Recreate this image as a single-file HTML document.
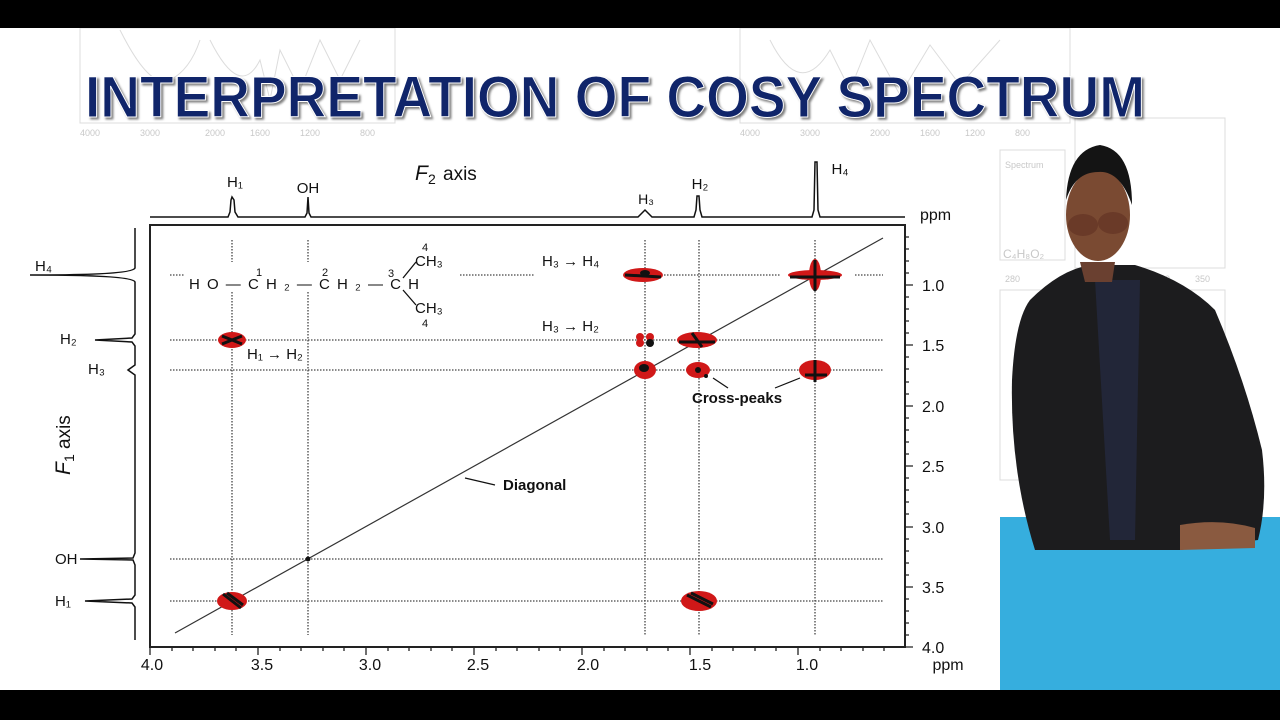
<!DOCTYPE html>
<html><head><meta charset="utf-8"><style>
html,body{margin:0;padding:0;width:1280px;height:720px;overflow:hidden;background:#fff}
svg{display:block}
text{font-family:"Liberation Sans",Arial,sans-serif}
</style></head><body>
<svg width="1280" height="720" viewBox="0 0 1280 720">
<rect width="1280" height="720" fill="#fff"/>
<g stroke="#dcdcdc" fill="none" stroke-width="1">
<rect x="80" y="28" width="315" height="95"/>
<path d="M120 30 Q150 90 170 80 T200 40 M210 40 Q240 100 260 60 L270 100 L280 50 L300 90 L320 40 L340 80 L360 40"/>
<rect x="740" y="28" width="330" height="95"/>
<path d="M770 40 Q800 100 830 50 L850 90 L870 40 L900 95 L930 45 L960 85 L1000 40"/>
<rect x="1075" y="118" width="150" height="150"/>
<rect x="1000" y="150" width="65" height="110"/>
<rect x="1000" y="290" width="225" height="190"/>
</g>
<g fill="#c8c8c8" font-size="9">
<text x="80" y="136">4000</text><text x="140" y="136">3000</text><text x="205" y="136">2000</text><text x="250" y="136">1600</text><text x="300" y="136">1200</text><text x="360" y="136">800</text>
<text x="740" y="136">4000</text><text x="800" y="136">3000</text><text x="870" y="136">2000</text><text x="920" y="136">1600</text><text x="965" y="136">1200</text><text x="1015" y="136">800</text>
<text x="1005" y="168">Spectrum</text><text x="1003" y="258" font-size="12">C₄H₈O₂</text><text x="1005" y="282">280</text><text x="1155" y="282">300</text><text x="1195" y="282">350</text>
</g>
<rect x="0" y="0" width="1280" height="28" fill="#000"/>
<rect x="0" y="690" width="1280" height="30" fill="#000"/>
<text x="85" y="117" font-size="58" font-weight="bold" fill="#10256a" stroke="#fff" stroke-width="1" textLength="1060" lengthAdjust="spacingAndGlyphs" style="filter:drop-shadow(2px 2px 1px rgba(0,0,0,0.5))">INTERPRETATION OF COSY SPECTRUM</text>

<path d="M150 217 L228 217 L230 212 L231 200 L232 197 L234 200 L235 212 L238 217 L305 217 L307 213 L308 197 L309 213 L311 217 L638 217 L642 213 L645 210 L648 213 L652 217 L694 217 L696 210 L697 196 L699 196 L700 210 L702 217 L812 217 L814 210 L815 162 L817 162 L818 210 L820 217 L905 217" stroke="#111" stroke-width="1.5" fill="none"/>
<text x="235" y="187" font-size="15" text-anchor="middle" fill="#111">H₁</text>
<text x="308" y="193" font-size="15" text-anchor="middle" fill="#111">OH</text>
<text x="646" y="204" font-size="14" text-anchor="middle" fill="#111">H₃</text>
<text x="700" y="189" font-size="15" text-anchor="middle" fill="#111">H₂</text>
<text x="840" y="174" font-size="15" text-anchor="middle" fill="#111">H₄</text>
<text x="415" y="180" font-size="21" font-style="italic" fill="#111">F</text><text x="428" y="184" font-size="14" fill="#111">2</text><text x="443" y="180" font-size="19" fill="#111">axis</text>
<text x="920" y="220" font-size="16" fill="#111">ppm</text>

<path d="M135 228 L135 268 Q133 275 30 275 Q133 275 135 282 L135 334 L132 338 L95 340 L132 342 L135 346 L135 365 L128 370 L135 375 L135 553 L133 558 L80 559 L133 560 L135 565 L135 595 L132 599 L85 601 L132 603 L135 607 L135 640" stroke="#111" stroke-width="1.5" fill="none"/>
<text x="35" y="271" font-size="15" fill="#111">H₄</text>
<text x="60" y="344" font-size="15" fill="#111">H₂</text>
<text x="88" y="374" font-size="15" fill="#111">H₃</text>
<text x="55" y="564" font-size="15" fill="#111">OH</text>
<text x="55" y="606" font-size="15" fill="#111">H₁</text>
<g transform="translate(70 475) rotate(-90)"><text x="0" y="0" font-size="21" font-style="italic" fill="#111">F</text><text x="13" y="4" font-size="14" fill="#111">1</text><text x="26" y="0" font-size="19" fill="#111">axis</text></g>

<rect x="150" y="225" width="755" height="422" fill="none" stroke="#222" stroke-width="2"/>
<g stroke="#444" stroke-width="1.3" stroke-dasharray="1.5 1.5">
<line x1="232" y1="240" x2="232" y2="262"/><line x1="232" y1="292" x2="232" y2="635"/>
<line x1="308" y1="240" x2="308" y2="262"/><line x1="308" y1="292" x2="308" y2="635"/>
<line x1="645" y1="240" x2="645" y2="635"/>
<line x1="699" y1="240" x2="699" y2="635"/>
<line x1="815" y1="240" x2="815" y2="635"/>
<line x1="170" y1="275" x2="185" y2="275"/><line x1="460" y1="275" x2="535" y2="275"/><line x1="640" y1="275" x2="780" y2="275"/><line x1="855" y1="275" x2="883" y2="275"/>
<line x1="170" y1="340" x2="883" y2="340"/>
<line x1="170" y1="370" x2="883" y2="370"/>
<line x1="170" y1="559" x2="883" y2="559"/>
<line x1="170" y1="601" x2="883" y2="601"/>
</g>
<line x1="175" y1="633" x2="883" y2="238" stroke="#333" stroke-width="1.2"/>
<circle cx="308" cy="559" r="2.5" fill="#111"/>
<g>
<g transform="translate(232 340)"><ellipse rx="14" ry="8" fill="#d01818"/><path d="M-10 -4 L10 4 M-10 4 L10 -4" stroke="#111" stroke-width="3"/></g>
<g transform="translate(232 601)"><ellipse rx="15" ry="9" fill="#d01818"/><path d="M-9 -7 L9 7 M-5 -8 L11 4" stroke="#111" stroke-width="3"/></g>
<g transform="translate(699 601)"><ellipse rx="18" ry="10" fill="#d01818"/><path d="M-12 -6 L12 6 M-8 -8 L14 3" stroke="#111" stroke-width="3"/></g>
<g transform="translate(643 275)"><ellipse rx="20" ry="7" fill="#d01818"/><path d="M-18 0 L18 2" stroke="#111" stroke-width="3"/><ellipse cx="2" cy="-2" rx="5" ry="3" fill="#111"/></g>
<g transform="translate(815 275)"><ellipse rx="27" ry="5" fill="#d01818"/><ellipse rx="6" ry="16" fill="#d01818"/><path d="M-25 2 L25 2 M0 -15 L0 16" stroke="#111" stroke-width="3"/></g>
<g transform="translate(697 340)"><ellipse rx="20" ry="8" fill="#d01818"/><path d="M-18 2 L18 2 M-5 -7 L5 7" stroke="#111" stroke-width="3"/></g>
<g transform="translate(645 340)"><circle cx="-5" cy="-3" r="4" fill="#d01818"/><circle cx="5" cy="-3" r="4" fill="#d01818"/><circle cx="-5" cy="3" r="4" fill="#d01818"/><circle cx="5" cy="3" r="4" fill="#111"/></g>
<g transform="translate(645 370)"><ellipse rx="11" ry="9" fill="#d01818"/><ellipse cx="-1" cy="-2" rx="5" ry="4" fill="#111"/></g>
<g transform="translate(698 370)"><ellipse rx="12" ry="8" fill="#d01818"/><circle r="3" fill="#111"/><circle cx="8" cy="6" r="2" fill="#111"/></g>
<g transform="translate(815 370)"><ellipse rx="16" ry="10" fill="#d01818"/><path d="M-10 5 L12 5 M0 -10 L0 12" stroke="#111" stroke-width="3"/></g>
</g>
<g font-size="15" fill="#111">
<text x="189" y="289" textLength="230" lengthAdjust="spacing">HO—CH₂—CH₂—CH</text>
<text x="256" y="276" font-size="11">1</text><text x="322" y="276" font-size="11">2</text><text x="388" y="277" font-size="11">3</text>
<text x="415" y="266">CH₃</text><text x="415" y="313">CH₃</text>
<text x="422" y="251" font-size="11">4</text><text x="422" y="327" font-size="11">4</text>
</g>
<path d="M403 278 L416 262 M403 290 L416 305" stroke="#111" stroke-width="1.3"/>
<g font-size="15" fill="#111">
<text x="247" y="359">H₁ → H₂</text>
<text x="542" y="266">H₃ → H₄</text>
<text x="542" y="331">H₃ → H₂</text>
<text x="692" y="403" font-weight="bold">Cross-peaks</text>
<text x="503" y="490" font-weight="bold">Diagonal</text>
</g>
<g stroke="#111" stroke-width="1.2"><line x1="728" y1="388" x2="713" y2="378"/><line x1="775" y1="388" x2="800" y2="378"/><line x1="495" y1="485" x2="465" y2="478"/></g>
<g stroke="#222" stroke-width="1.3">
<path d="M150 647 v8 M258 647 v8 M366 647 v8 M474 647 v8 M582 647 v8 M690 647 v8 M798 647 v8"/>
<path d="M172 647 v4 M193 647 v4 M215 647 v4 M236 647 v4 M280 647 v4 M301 647 v4 M323 647 v4 M344 647 v4 M388 647 v4 M409 647 v4 M431 647 v4 M452 647 v4 M496 647 v4 M517 647 v4 M539 647 v4 M560 647 v4 M604 647 v4 M625 647 v4 M647 647 v4 M668 647 v4 M712 647 v4 M733 647 v4 M755 647 v4 M776 647 v4 M820 647 v4 M841 647 v4 M863 647 v4 M884 647 v4"/>
<path d="M905 285 h8 M905 345 h8 M905 406 h8 M905 466 h8 M905 527 h8 M905 587 h8 M905 647 h8"/>
<path d="M905 237 h4 M905 249 h4 M905 261 h4 M905 273 h4 M905 297 h4 M905 309 h4 M905 321 h4 M905 333 h4 M905 357 h4 M905 369 h4 M905 382 h4 M905 394 h4 M905 418 h4 M905 430 h4 M905 442 h4 M905 454 h4 M905 478 h4 M905 490 h4 M905 502 h4 M905 514 h4 M905 539 h4 M905 551 h4 M905 563 h4 M905 575 h4 M905 599 h4 M905 611 h4 M905 623 h4 M905 635 h4"/>
</g>
<g font-size="16" fill="#111" text-anchor="middle">
<text x="152" y="670">4.0</text><text x="262" y="670">3.5</text><text x="370" y="670">3.0</text><text x="478" y="670">2.5</text><text x="588" y="670">2.0</text><text x="700" y="670">1.5</text><text x="807" y="670">1.0</text>
<text x="948" y="670">ppm</text>
</g>
<g font-size="16" fill="#111">
<text x="922" y="291">1.0</text><text x="922" y="351">1.5</text><text x="922" y="412">2.0</text><text x="922" y="472">2.5</text><text x="922" y="533">3.0</text><text x="922" y="593">3.5</text><text x="922" y="653">4.0</text>
</g>

<rect x="1000" y="517" width="280" height="173" fill="#36aede"/>
<g>
<path d="M1030 300 Q1060 270 1090 265 L1135 265 Q1185 280 1215 310 Q1245 380 1262 450 Q1268 500 1258 540 L1180 550 L1035 550 Q1010 470 1012 380 Q1015 320 1030 300 Z" fill="#1c1c1e"/>
<path d="M1095 280 L1140 280 L1135 540 L1110 540 Z" fill="#222638"/>
<path d="M1180 525 Q1220 518 1255 528 L1255 548 L1180 550 Z" fill="#8a5a40"/>
<ellipse cx="1098" cy="215" rx="32" ry="46" fill="#7a4a32"/>
<path d="M1066 200 Q1068 150 1100 145 Q1132 150 1132 205 Q1120 170 1098 172 Q1075 172 1066 200 Z" fill="#141414"/>
<ellipse cx="1083" cy="225" rx="15" ry="11" fill="#6a3a28"/><ellipse cx="1113" cy="223" rx="15" ry="11" fill="#6a3a28"/>
<path d="M1080 262 L1115 262 L1112 282 L1085 282 Z" fill="#6a4030"/>
</g>
</svg>
</body></html>
